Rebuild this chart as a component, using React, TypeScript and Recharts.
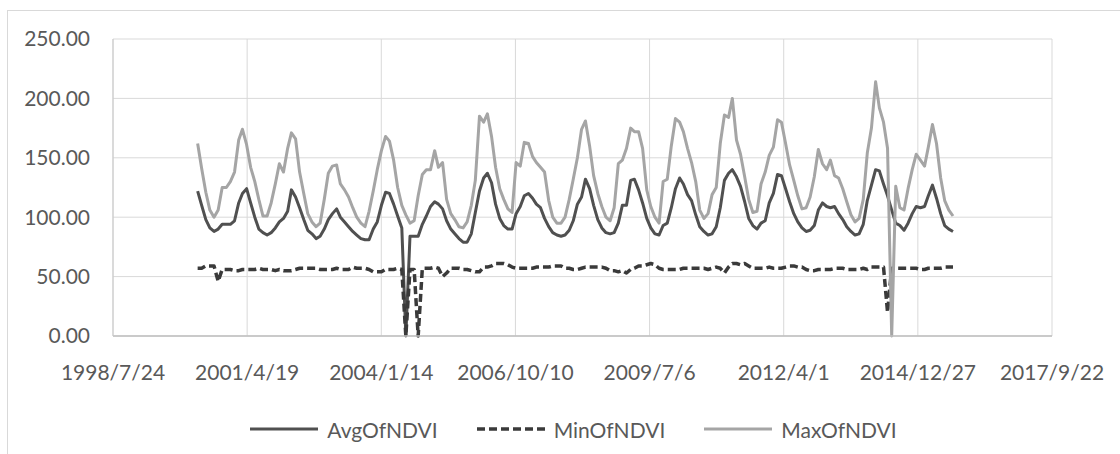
import React from "react";
import { LineChart, Line, XAxis, YAxis, CartesianGrid, Legend } from "recharts";

const FONT = "Lato, 'Open Sans', sans-serif";
const TEXT = "#595959";

const xTickLabels = [
  "1998/7/24",
  "2001/4/19",
  "2004/1/14",
  "2006/10/10",
  "2009/7/6",
  "2012/4/1",
  "2014/12/27",
  "2017/9/22",
];
const yTicks = [0, 50, 100, 150, 200, 250];

// monthly values, the first one is April 2000 (one row per year)
const firstMonth = { year: 2000, month: 4 };

const avgNdvi = [
  122, 110, 98, 91, 88, 90, 94, 94, 94,
  97, 112, 120, 124, 112, 100, 90, 87, 85, 87, 91, 96,
  99, 105, 123, 117, 108, 98, 89, 86, 82, 84, 90, 98,
  103, 107, 100, 96, 92, 88, 85, 82, 81, 81, 90, 96,
  110, 121, 120, 111, 101, 91, 0, 84, 84, 84, 94, 101,
  109, 113, 111, 107, 97, 90, 86, 82, 79, 79, 86, 104,
  122, 133, 137, 129, 111, 99, 93, 90, 90, 103, 109, 118,
  120, 116, 111, 108, 99, 92, 87, 85, 84, 85, 89, 97,
  111, 117, 132, 124, 110, 98, 91, 87, 86, 87, 95, 110,
  110, 131, 132, 123, 112, 99, 91, 86, 85, 93, 95, 108,
  124, 133, 128, 119, 114, 102, 92, 88, 85, 86, 92, 108,
  131, 137, 140, 134, 126, 113, 99, 93, 90, 95, 97, 112,
  120, 136, 135, 124, 113, 103, 96, 91, 88, 89, 93, 106,
  112, 109, 108, 109, 103, 98, 92, 88, 85, 86, 94, 114,
  127, 140, 139, 128, 118, 106, 95, 93, 89, 95, 103, 109,
  108, 109, 118, 127, 116, 103, 93, 90, 88,
];

const minNdvi = [
  57, 57, 59, 59, 59, 46, 56, 56, 56,
  55, 55, 56, 56, 56, 56, 57, 56, 56, 56, 55, 56,
  55, 55, 55, 56, 57, 57, 57, 57, 57, 56, 56, 56,
  56, 57, 56, 56, 56, 58, 57, 57, 57, 56, 54, 54,
  54, 56, 56, 56, 57, 56, 0, 56, 56, 0, 57, 57,
  57, 58, 57, 50, 53, 57, 57, 57, 56, 56, 55, 54,
  54, 58, 58, 59, 61, 61, 61, 60, 58, 57, 57, 57,
  57, 57, 58, 58, 58, 58, 59, 59, 59, 57, 57, 56,
  56, 57, 58, 58, 58, 58, 58, 57, 55, 55, 54, 55,
  53, 56, 57, 59, 59, 60, 61, 60, 57, 56, 56, 56,
  56, 56, 57, 57, 57, 57, 57, 57, 56, 57, 58, 57,
  53, 58, 61, 61, 60, 61, 59, 57, 57, 57, 57, 58,
  57, 57, 57, 58, 59, 59, 58, 58, 56, 55, 55, 56,
  56, 56, 56, 57, 57, 57, 56, 56, 56, 56, 57, 56,
  58, 58, 58, 58, 20, 57, 57, 57, 57, 57, 57, 57,
  56, 56, 57, 57, 57, 57, 58, 58, 58,
];

const maxNdvi = [
  162, 141, 121, 106, 100, 106, 125, 125, 130,
  138, 165, 174, 161, 142, 130, 115, 101, 101, 112, 128, 145,
  138, 158, 171, 166, 138, 120, 103, 96, 92, 95, 115, 137,
  143, 144, 128, 123, 117, 108, 100, 95, 92, 105, 122, 140,
  156, 168, 164, 148, 125, 110, 102, 95, 97, 118, 136, 140,
  140, 156, 142, 146, 115, 103, 98, 92, 91, 96, 110, 131,
  185, 180, 187, 168, 142, 124, 115, 107, 104, 146, 143, 163,
  162, 151, 146, 142, 138, 114, 100, 95, 95, 100, 115, 132,
  150, 174, 181, 160, 135, 120, 109, 100, 97, 108, 145, 148,
  158, 175, 172, 172, 158, 123, 109, 100, 95, 130, 132, 160,
  183, 180, 172, 158, 146, 130, 106, 99, 103, 119, 125, 162,
  186, 184, 200, 165, 153, 134, 115, 104, 105, 128, 138, 152,
  159, 182, 180, 162, 144, 131, 118, 107, 108, 117, 134, 157,
  145, 140, 148, 135, 133, 124, 113, 102, 96, 99, 115, 154,
  175, 214, 192, 180, 158, 0, 126, 108, 106, 124, 140, 153,
  148, 143, 159, 178, 162, 133, 114, 106, 101,
];

const series = [
  { key: "avg", name: "AvgOfNDVI", color: "#505050", width: 3, dash: undefined },
  { key: "min", name: "MinOfNDVI", color: "#3a3a3a", width: 3.5, dash: "8 4" },
  { key: "max", name: "MaxOfNDVI", color: "#a5a5a5", width: 3, dash: undefined },
];

const toTime = (label: string) => {
  const [y, m, d] = label.split("/").map(Number);
  return Date.UTC(y, m - 1, d);
};

const fmtDate = (t: number) => {
  const d = new Date(t);
  return `${d.getUTCFullYear()}/${d.getUTCMonth() + 1}/${d.getUTCDate()}`;
};

const xTicks = xTickLabels.map(toTime);

const data = avgNdvi.map((avg, i) => ({
  t: Date.UTC(firstMonth.year, firstMonth.month - 1 + i, 15),
  avg,
  min: minNdvi[i],
  max: maxNdvi[i],
}));

const NdviLegend = () => (
  <div
    style={{
      display: "flex",
      justifyContent: "center",
      alignItems: "center",
      gap: 39,
      height: 34,
      fontFamily: FONT,
      fontSize: 21,
      color: TEXT,
    }}
  >
    {series.map((s) => (
      <div key={s.key} style={{ display: "flex", alignItems: "center" }}>
        <svg width={68} height={6} style={{ marginRight: 9 }}>
          <line
            x1={0}
            y1={3}
            x2={68}
            y2={3}
            stroke={s.color}
            strokeWidth={s.width}
            strokeDasharray={s.dash}
          />
        </svg>
        <span>{s.name}</span>
      </div>
    ))}
  </div>
);

export default function App() {
  const tickStyle = { fill: TEXT, fontSize: 21, fontFamily: FONT };

  return (
    <div
      style={{
        position: "absolute",
        left: 0,
        top: 0,
        width: 1120,
        height: 454,
        overflow: "hidden",
        background: "#fff",
      }}
    >
      <div
        style={{
          position: "absolute",
          left: 7,
          top: 10,
          width: 1200,
          height: 500,
          border: "1px solid #d9d9d9",
        }}
      />
      <div style={{ position: "absolute", left: 0, top: 0 }}>
        <LineChart
          width={1120}
          height={454}
          data={data}
          margin={{ top: 39, right: 68, bottom: 0, left: 0 }}
        >
          <CartesianGrid stroke="#d9d9d9" strokeWidth={1} />
          <XAxis
            dataKey="t"
            type="number"
            domain={[xTicks[0], xTicks[xTicks.length - 1]]}
            ticks={xTicks}
            interval={0}
            tickFormatter={fmtDate}
            height={118}
            tickSize={0}
            tickMargin={29}
            tickLine={false}
            axisLine={{ stroke: "#bfbfbf", strokeWidth: 1.5 }}
            tick={tickStyle}
          />
          <YAxis
            domain={[0, 250]}
            ticks={yTicks}
            interval={0}
            tickFormatter={(v: number) => v.toFixed(2)}
            width={113}
            tickSize={0}
            tickMargin={23}
            tickLine={false}
            axisLine={{ stroke: "#c8c8c8" }}
            tick={tickStyle}
          />
          <Legend
            layout="horizontal"
            verticalAlign="middle"
            align="center"
            wrapperStyle={{ left: 0, top: 412, width: 1147, height: 34 }}
            content={() => <NdviLegend />}
          />
          {series.map((s) => (
            <Line
              key={s.key}
              type="linear"
              dataKey={s.key}
              name={s.name}
              stroke={s.color}
              strokeWidth={s.width}
              strokeDasharray={s.dash}
              strokeLinejoin="round"
              dot={false}
              activeDot={false}
              isAnimationActive={false}
            />
          ))}
        </LineChart>
      </div>
    </div>
  );
}
